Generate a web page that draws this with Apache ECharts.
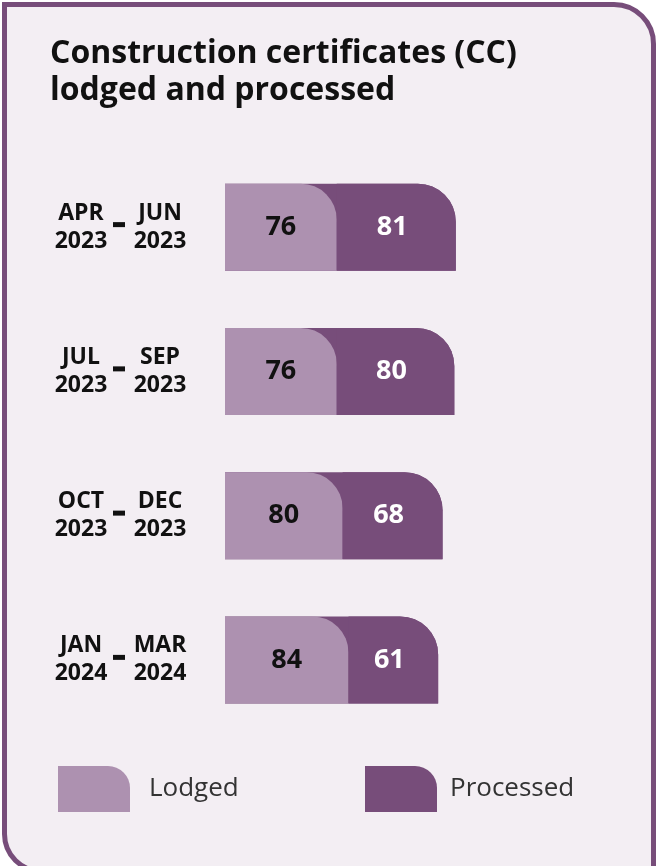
<!DOCTYPE html>
<html>
<head>
<meta charset="utf-8">
<script src="https://cdn.jsdelivr.net/npm/echarts@6/dist/echarts.min.js"></script>
<style>
  html, body { margin: 0; padding: 0; background: #fff; }
  .card {
    position: absolute;
    left: 2px;
    top: 2px;
    width: 654px;
    height: 872px;
    box-sizing: border-box;
    border: 5px solid #774d7a;
    border-radius: 0 42px 0 40px;
    background: #f3eef3;
  }
  #chart { position: absolute; left: 0; top: 0; width: 656px; height: 866px; }
</style>
</head>
<body>
<div class="card"></div>
<div id="chart"></div>
<script>
const periodStart = ['APR 2023', 'JUL 2023', 'OCT 2023', 'JAN 2024']
const periodEnd = ['JUN 2023', 'SEP 2023', 'DEC 2023', 'MAR 2024']
const lodged = [76, 76, 80, 84]
const processed = [81, 80, 68, 61]

const categories = periodStart.map((s, i) => s + ' - ' + periodEnd[i])
const totals = lodged.map((v, i) => v + processed[i]) // dark bar behind the light one

const LIGHT = '#ad91b0'
const DARK = '#774d7a'
const FONT = '"Open Sans", "Noto Sans", sans-serif'

const chart = echarts.init(document.getElementById('chart'), null, { renderer: 'canvas' })

const legendIcon = 'path://M0,0 L50,0 A22,22 0 0 1 72,22 L72,46 L0,46 Z'
const legendBase = {
  top: 761,
  itemWidth: 72,
  itemHeight: 46,
  icon: legendIcon,
  selectedMode: false,
  textStyle: { fontFamily: FONT, fontSize: 26, color: '#333', padding: [4, 0, 0, 14] }
}

chart.setOption({
  animation: false,
  title: {
    text: 'Construction certificates (CC)\nlodged and processed',
    left: 45,
    top: 30,
    textStyle: { fontFamily: FONT, fontSize: 32, fontWeight: 'bold', color: '#111', lineHeight: 37 }
  },
  legend: [
    Object.assign({}, legendBase, { left: 53, data: ['Lodged'] }),
    Object.assign({}, legendBase, { left: 360, data: ['Processed'], textStyle: Object.assign({}, legendBase.textStyle, { padding: [4, 0, 0, 8] }) })
  ],
  grid: { left: 225, right: 137, top: 155, bottom: 134, containLabel: false },
  xAxis: { type: 'value', min: 0, max: 200, show: false },
  yAxis: {
    type: 'category',
    inverse: true,
    data: categories,
    axisLine: { show: false },
    axisTick: { show: false },
    splitLine: { show: false },
    axisLabel: {
      margin: 36,
      align: 'right',
      formatter(value) {
        const [a, b] = value.split(' - ')
        const [m1, y1] = a.split(' ')
        const [m2, y2] = b.split(' ')
        return `{l|${m1}}{s1| }{d| }{s2| }{r|${m2}}\n{l|${y1}}{s3| }{r|${y2}}`
      },
      rich: {
        l: { width: 58, align: 'center', fontFamily: FONT, fontSize: 23, fontWeight: 'bold', color: '#111', lineHeight: 28 },
        r: { width: 58, align: 'center', fontFamily: FONT, fontSize: 23, fontWeight: 'bold', color: '#111', lineHeight: 28 },
        s1: { width: 3, fontSize: 10 },
        s2: { width: 6, fontSize: 10 },
        s3: { width: 21, fontSize: 10 },
        d: { width: 12, height: 5, fontSize: 4, lineHeight: 5, backgroundColor: '#111', verticalAlign: 'bottom' }
      }
    }
  },
  series: [
    {
      name: 'Total',
      type: 'bar',
      data: totals,
      barWidth: 87,
      barGap: '-100%',
      silent: true,
      itemStyle: { color: DARK, borderRadius: [0, 38, 0, 0] }
    },
    {
      name: 'Lodged',
      type: 'bar',
      stack: 'cc',
      data: lodged,
      barWidth: 87,
      itemStyle: { color: LIGHT, borderRadius: [0, 36, 0, 0] },
      label: { show: true, position: 'inside', fontFamily: FONT, fontSize: 27, fontWeight: 'bold', color: '#111' }
    },
    {
      name: 'Processed',
      type: 'bar',
      stack: 'cc',
      data: processed,
      barWidth: 87,
      itemStyle: { color: DARK, borderRadius: [0, 38, 0, 0] },
      label: { show: true, position: 'inside', offset: [-4, 0], fontFamily: FONT, fontSize: 27, fontWeight: 'bold', color: '#fff' }
    }
  ]
})
</script>
</body>
</html>
